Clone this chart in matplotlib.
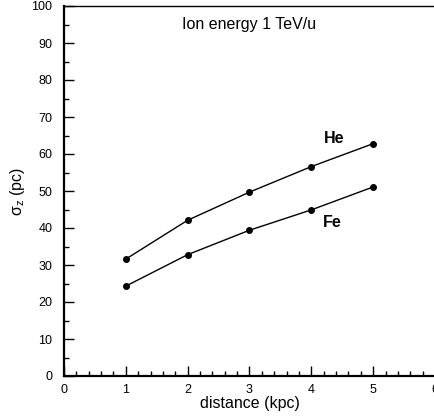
import matplotlib
matplotlib.use("Agg")
import matplotlib.pyplot as plt
from matplotlib.ticker import MultipleLocator

distance = [1, 2, 3, 4, 5]
sigma_he = [31.6, 42.1, 49.7, 56.6, 62.8]
sigma_fe = [24.3, 32.8, 39.4, 44.9, 51.1]
title_text = "Ion energy 1 TeV/u"

plt.rcParams['font.family'] = ['Liberation Sans', 'DejaVu Sans']
plt.rcParams['mathtext.fontset'] = 'custom'
plt.rcParams['mathtext.rm'] = 'Liberation Sans'
plt.rcParams['mathtext.it'] = 'Liberation Sans:italic'

fig = plt.figure(figsize=(4.35, 4.16), dpi=100)
ax = fig.add_axes([64/435, 40/416, 371/435, 370/416])

for ys in (sigma_he, sigma_fe):
    ax.plot(distance, ys, color='black', lw=1.0, marker='o', ms=4, mfc='black', mec='black')

ax.set_xlim(0, 6)
ax.set_ylim(0, 100)
ax.xaxis.set_major_locator(MultipleLocator(1))
ax.xaxis.set_minor_locator(MultipleLocator(0.2))
ax.yaxis.set_major_locator(MultipleLocator(10))
ax.yaxis.set_minor_locator(MultipleLocator(5))
ax.tick_params(which='both', direction='in', labelsize=9, width=1.0)
ax.tick_params(which='major', length=7)
ax.tick_params(which='minor', length=3.5)
ax.tick_params(axis='x', pad=6)
ax.tick_params(axis='y', pad=8.5)

for s in ('left', 'bottom'):
    ax.spines[s].set_linewidth(1.6)
for s in ('right', 'top'):
    ax.spines[s].set_linewidth(1.0)

ax.text(3.0, 94.9, title_text, ha='center', va='center', fontsize=11.5)
ax.text(4.37, 64.3, 'He', ha='center', va='center', fontsize=11.5, fontweight='bold')
ax.text(4.34, 41.4, 'Fe', ha='center', va='center', fontsize=11.5, fontweight='bold')

ax.set_xlabel('distance (kpc)', fontsize=11.5, labelpad=0)
ax.set_ylabel('\u03c3$_{\\mathrm{z}}$ (pc)', fontsize=11.5, labelpad=3)

fig.savefig('out.png', dpi=100)
